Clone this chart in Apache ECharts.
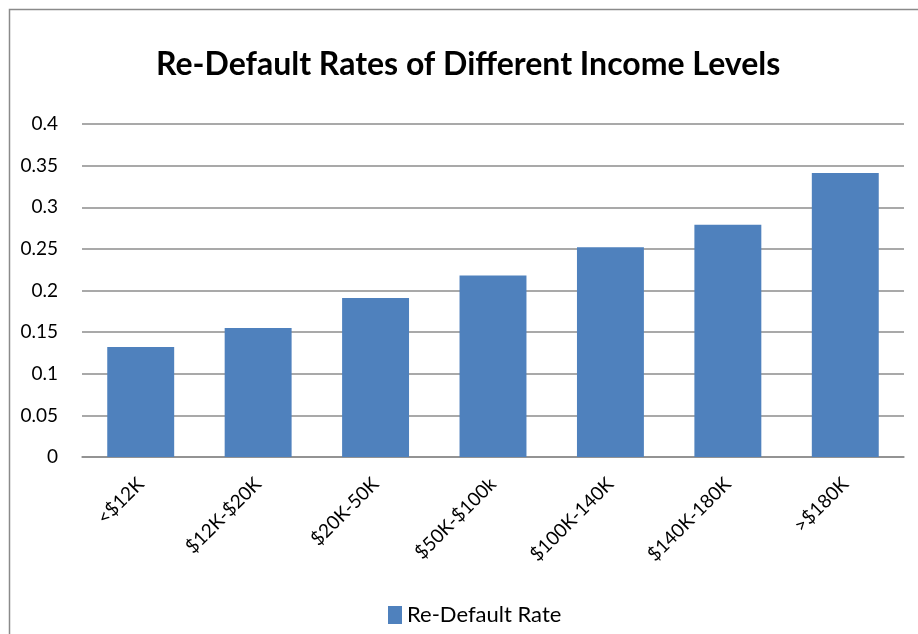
<!DOCTYPE html>
<html>
<head>
<meta charset="utf-8">
<script src="https://cdn.jsdelivr.net/npm/echarts@6/dist/echarts.min.js"></script>
<style>
html,body{margin:0;padding:0;background:#fff;}
#c{width:918px;height:634px;}
</style>
</head>
<body>
<div id="c"></div>
<script>
const categories = ['<$12K', '$12K-$20K', '$20K-50K', '$50K-$100k', '$100K-140K', '$140K-180K', '>$180K'];
const reDefaultRate = [0.132, 0.155, 0.191, 0.218, 0.252, 0.279, 0.341];
const seriesName = 'Re-Default Rate';
const titleText = 'Re-Default Rates of Different Income Levels';

const chart = echarts.init(document.getElementById('c'), null, {renderer: 'canvas'});
const font = 'Lato, "Open Sans", sans-serif';
chart.setOption({
  animation: false,
  backgroundColor: '#ffffff',
  graphic: [{
    type: 'rect',
    shape: {x: 9.5, y: 9.5, width: 1000, height: 1000},
    style: {fill: 'none', stroke: '#8a8a8a', lineWidth: 1.5},
    silent: true
  }],
  title: {
    text: titleText,
    left: 156,
    top: 49,
    padding: 0,
    textStyle: {fontFamily: font, fontWeight: 'bold', fontSize: 32, color: '#000000'}
  },
  legend: {
    data: [seriesName],
    bottom: 8,
    left: 388,
    padding: 0,
    icon: 'rect',
    itemWidth: 14,
    itemHeight: 18,
    itemGap: 5,
    textStyle: {fontFamily: font, fontSize: 22, color: '#000000'}
  },
  grid: {left: 82, right: 14, top: 124, bottom: 177, containLabel: false},
  xAxis: {
    type: 'category',
    data: categories,
    axisLine: {show: true, lineStyle: {color: '#8c8c8c', width: 1.5}},
    axisTick: {show: false},
    axisLabel: {rotate: 45, margin: 24, fontFamily: font, fontSize: 19, color: '#000000', interval: 0}
  },
  yAxis: {
    type: 'value',
    min: 0,
    max: 0.4,
    interval: 0.05,
    axisLine: {show: false},
    axisTick: {show: false},
    splitLine: {lineStyle: {color: '#8c8c8c', width: 1.5}},
    axisLabel: {margin: 24, fontFamily: font, fontSize: 19, color: '#000000'}
  },
  series: [{
    name: seriesName,
    type: 'bar',
    data: reDefaultRate,
    barCategoryGap: '43%',
    itemStyle: {color: '#4f81bd'}
  }]
});
</script>
</body>
</html>
